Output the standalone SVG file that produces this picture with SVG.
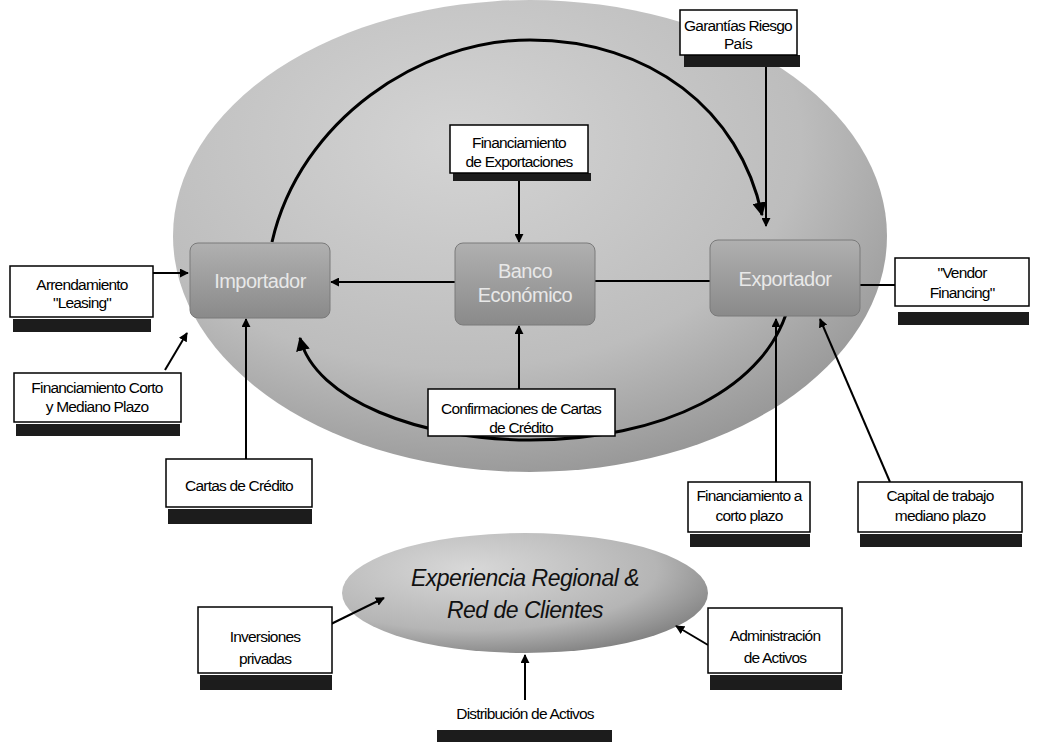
<svg xmlns="http://www.w3.org/2000/svg" width="1037" height="747" viewBox="0 0 1037 747">
<defs>
<radialGradient id="bigG" cx="0.4" cy="0.3" r="0.8">
<stop offset="0" stop-color="#d4d4d4"/>
<stop offset="0.6" stop-color="#bdbdbd"/>
<stop offset="1" stop-color="#8c8c8c"/>
</radialGradient>
<radialGradient id="smallG" cx="0.35" cy="0.3" r="0.85">
<stop offset="0" stop-color="#d8d8d8"/>
<stop offset="0.6" stop-color="#b5b5b5"/>
<stop offset="1" stop-color="#6e6e6e"/>
</radialGradient>
<linearGradient id="nodeG" x1="0" y1="0" x2="0" y2="1">
<stop offset="0" stop-color="#b0b0b0"/>
<stop offset="1" stop-color="#8a8a8a"/>
</linearGradient>
<marker id="ah" viewBox="0 0 10 10" refX="9" refY="5" markerWidth="9" markerHeight="9" markerUnits="userSpaceOnUse" orient="auto">
<path d="M0,0 L10,5 L0,10 z" fill="#000"/>
</marker>
<marker id="ahL" viewBox="0 0 10 10" refX="9" refY="5" markerWidth="14" markerHeight="14" markerUnits="userSpaceOnUse" orient="auto">
<path d="M0,0 L10,5 L0,10 z" fill="#000"/>
</marker>
</defs>
<style>
.box{fill:#fff;stroke:#000;stroke-width:1.5}
.sh{fill:#1c1c1c}
.t{font-family:"Liberation Sans",Arial,sans-serif;font-size:15.5px;fill:#000;text-anchor:middle;letter-spacing:-0.8px}
.n{font-family:"Liberation Sans",Arial,sans-serif;font-size:20px;fill:#e8e8e8;text-anchor:middle;letter-spacing:-0.5px}
.node{fill:url(#nodeG);stroke:#7a7a7a;stroke-width:1}
.c{stroke:#000;stroke-width:2;fill:none}
.ring{stroke:#000;stroke-width:3;fill:none}
.it{font-family:"Liberation Sans",Arial,sans-serif;font-size:23px;font-style:italic;fill:#111;text-anchor:middle;letter-spacing:-0.5px}
</style>
<rect width="1037" height="747" fill="#fff"/>
<g id="bigEllipse"><ellipse cx="530" cy="236" rx="357" ry="236" fill="url(#bigG)"/></g>
<g id="regional">
<ellipse cx="525" cy="593" rx="183" ry="60" fill="url(#smallG)"/>
<text class="it" x="525" y="586">Experiencia Regional &amp;</text>
<text class="it" x="525" y="618">Red de Clientes</text>
</g>
<g id="connectors">
<path class="ring" d="M272,242 C300,120 420,40 530,40 C650,40 740,110 762,215" marker-end="url(#ahL)"/>
<path class="ring" d="M790,300 C770,390 660,440 530,440 C420,440 315,400 300,338" marker-end="url(#ahL)"/>
<line class="c" x1="455" y1="282" x2="331" y2="282" marker-end="url(#ah)"/>
<line class="c" x1="595" y1="281" x2="710" y2="281"/>
<line class="c" x1="519" y1="180" x2="519" y2="242" marker-end="url(#ah)"/>
<line class="c" x1="519" y1="389" x2="519" y2="326" marker-end="url(#ah)"/>
<line class="c" x1="766" y1="55" x2="766" y2="226" marker-end="url(#ah)"/>
<line class="c" x1="895" y1="285" x2="849" y2="285" marker-end="url(#ah)"/>
<line class="c" x1="153" y1="273" x2="188" y2="273" marker-end="url(#ah)"/>
<line class="c" x1="165" y1="370" x2="187" y2="333" marker-end="url(#ah)"/>
<line class="c" x1="246" y1="459" x2="246" y2="319" marker-end="url(#ah)"/>
<line class="c" x1="776" y1="482" x2="776" y2="319" marker-end="url(#ah)"/>
<line class="c" x1="890" y1="482" x2="820" y2="319" marker-end="url(#ah)"/>
<line class="c" x1="331" y1="624" x2="384" y2="598" marker-end="url(#ah)"/>
<line class="c" x1="708" y1="645" x2="676" y2="626" marker-end="url(#ah)"/>
<line class="c" x1="525" y1="700" x2="525" y2="655" marker-end="url(#ah)"/>
</g>
<g id="importador"><rect class="node" x="190" y="243" width="140" height="75" rx="8"/><text class="n" x="260" y="288">Importador</text></g>
<g id="banco"><rect class="node" x="455" y="243" width="140" height="82" rx="8"/><text class="n" x="525" y="278">Banco</text><text class="n" x="525" y="302">Económico</text></g>
<g id="exportador"><rect class="node" x="710" y="240" width="150" height="76" rx="8"/><text class="n" x="785" y="286">Exportador</text></g>
<g id="garantias"><rect class="sh" x="684" y="55" width="116" height="12"/><rect class="box" x="680" y="10" width="117" height="45"/><text class="t" x="738" y="31">Garantías Riesgo</text><text class="t" x="738" y="49">País</text></g>
<g id="finExport"><rect class="sh" x="453" y="173" width="138" height="8"/><rect class="box" x="450" y="125" width="138" height="48"/><text class="t" x="519" y="148">Financiamiento</text><text class="t" x="519" y="167">de Exportaciones</text></g>
<g id="confirm"><rect class="box" x="428" y="389" width="187" height="47"/><text class="t" x="521" y="414">Confirmaciones de Cartas</text><text class="t" x="521" y="433">de Crédito</text></g>
<g id="arrend"><rect class="sh" x="13" y="319" width="138" height="13"/><rect class="box" x="10" y="266" width="143" height="51"/><text class="t" x="82" y="290">Arrendamiento</text><text class="t" x="82" y="308">"Leasing"</text></g>
<g id="finCorto"><rect class="sh" x="16" y="424" width="164" height="12"/><rect class="box" x="14" y="373" width="167" height="49"/><text class="t" x="97" y="393">Financiamiento Corto</text><text class="t" x="97" y="412">y Mediano Plazo</text></g>
<g id="vendor"><rect class="sh" x="898" y="312" width="131" height="13"/><rect class="box" x="895" y="258" width="134" height="48"/><text class="t" x="962" y="278">"Vendor</text><text class="t" x="962" y="298">Financing"</text></g>
<g id="cartas"><rect class="sh" x="168" y="509" width="144" height="15"/><rect class="box" x="166" y="459" width="146" height="48"/><text class="t" x="239" y="491">Cartas de Crédito</text></g>
<g id="finCortoPlazo"><rect class="sh" x="690" y="534" width="120" height="13"/><rect class="box" x="688" y="482" width="122" height="50"/><text class="t" x="749" y="501">Financiamiento a</text><text class="t" x="749" y="521">corto plazo</text></g>
<g id="capital"><rect class="sh" x="860" y="534" width="162" height="13"/><rect class="box" x="858" y="482" width="164" height="50"/><text class="t" x="940" y="501">Capital de trabajo</text><text class="t" x="940" y="521">mediano plazo</text></g>
<g id="inversiones"><rect class="sh" x="200" y="675" width="132" height="15"/><rect class="box" x="198" y="607" width="134" height="66"/><text class="t" x="265" y="642">Inversiones</text><text class="t" x="265" y="664">privadas</text></g>
<g id="administracion"><rect class="sh" x="710" y="675" width="132" height="15"/><rect class="box" x="708" y="608" width="134" height="65"/><text class="t" x="775" y="641">Administración</text><text class="t" x="775" y="663">de Activos</text></g>
<g id="distribucion"><rect class="sh" x="437" y="730" width="175" height="12"/><text class="t" x="525" y="719">Distribución de Activos</text></g>
</svg>
